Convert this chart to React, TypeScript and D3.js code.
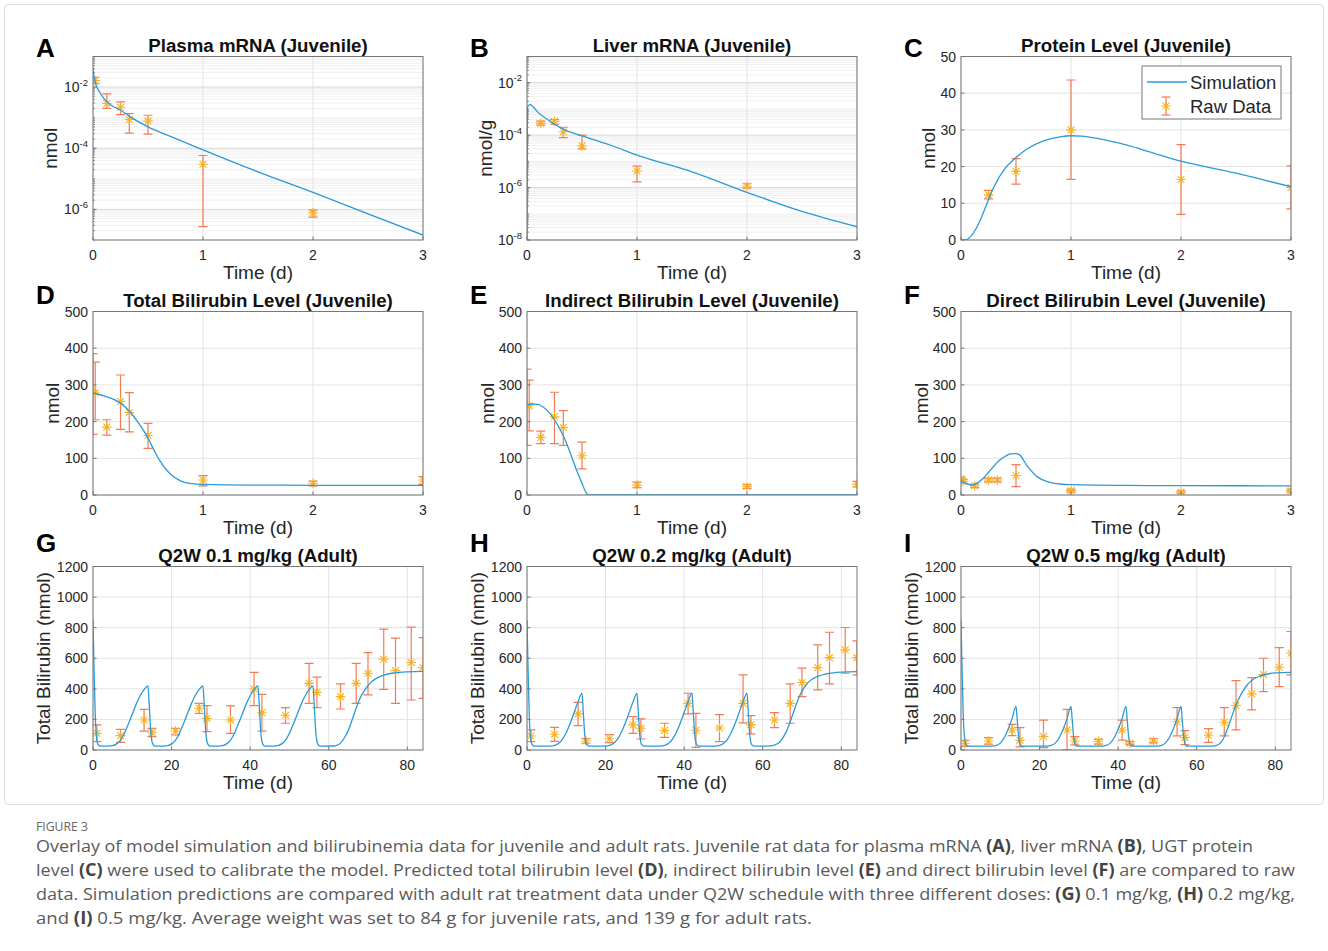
import React from "react";
import * as d3 from "d3";

// ---------------- DATA ----------------
// [time, value, low, high]
const plasmaData = [
  [0.02, 1.65e-2, 1.3e-2, 2.1e-2],
  [0.125, 2.9e-3, 2.0e-3, 6.0e-3],
  [0.25, 2.2e-3, 1.26e-3, 3.3e-3],
  [0.33, 8.7e-4, 3.1e-4, 1.37e-3],
  [0.5, 7.7e-4, 2.9e-4, 1.2e-3],
  [1, 3.0e-5, 2.75e-7, 5.8e-5],
  [2, 7.7e-7, 5.6e-7, 9.5e-7],
];
const plasmaSim = [
  [0, 3.9e-2], [0.01, 2.1e-2], [0.03, 1.1e-2], [0.06, 6.9e-3], [0.1, 4.2e-3], [0.15, 2.8e-3],
  [0.25, 1.75e-3], [0.35, 1.0e-3], [0.5, 5.0e-4], [0.75, 2.1e-4], [1, 8.9e-5], [1.5, 1.7e-5],
  [2, 3.6e-6], [2.5, 7.2e-7], [3, 1.45e-7],
];
const liverData = [
  [0.125, 2.8e-4, 2.4e-4, 3.4e-4],
  [0.25, 3.4e-4, 2.6e-4, 3.9e-4],
  [0.33, 1.35e-4, 8.1e-5, 2.0e-4],
  [0.5, 3.9e-5, 3.0e-5, 1.0e-4],
  [1, 4.3e-6, 1.66e-6, 6.6e-6],
  [2, 1.15e-6, 0.97e-6, 1.4e-6],
];
const liverSim = [
  [0, 1e-8], [0.004, 1.1e-3], [0.015, 1.35e-3], [0.03, 1.47e-3], [0.06, 1.15e-3], [0.1, 7.4e-4],
  [0.18, 4.1e-4], [0.25, 2.6e-4], [0.35, 1.55e-4], [0.5, 9.3e-5], [0.75, 4.3e-5], [1, 1.74e-5],
  [1.5, 4.0e-6], [2, 6.6e-7], [2.5, 1.23e-7], [3, 3.2e-8],
];
const proteinData = [
  [0.25, 12.3, 11.2, 13.5],
  [0.5, 18.7, 15.2, 22.2],
  [1, 30, 16.5, 43.6],
  [2, 16.5, 7, 26],
  [3, 14.3, 8.5, 20.2],
];
const proteinSim = [
  [0, 0], [0.05, 0.1], [0.1, 1.4], [0.15, 3.8], [0.2, 7.2], [0.25, 11], [0.3, 14.5], [0.4, 19.5],
  [0.5, 22.5], [0.6, 24.8], [0.75, 27], [0.9, 28.1], [1, 28.4], [1.1, 28.3], [1.25, 27.6],
  [1.5, 25.9], [1.75, 23.7], [2, 21.5], [2.25, 19.8], [2.5, 18.2], [2.75, 16.4], [3, 14.5],
];
const totalData = [
  [0, 285, 165, 385],
  [0.02, 278, 205, 362],
  [0.125, 185, 163, 205],
  [0.25, 255, 179, 327],
  [0.33, 225, 172, 279],
  [0.5, 162, 127, 195],
  [1, 41, 25, 53],
  [2, 32, 25, 38],
  [3, 41, 29, 50],
];
const totalSim = [
  [0, 278], [0.1, 270], [0.2, 259], [0.3, 238], [0.35, 222], [0.4, 202], [0.45, 180], [0.5, 155],
  [0.55, 125], [0.6, 97], [0.7, 58], [0.8, 38], [0.9, 31], [1, 29], [1.5, 27], [2, 26.5], [3, 26],
];
const indirectData = [
  [0, 243, 135, 343],
  [0.02, 243, 175, 313],
  [0.125, 157, 140, 174],
  [0.25, 213, 140, 280],
  [0.33, 184, 135, 230],
  [0.5, 107, 71, 144],
  [1, 27, 20, 35],
  [2, 23, 18, 28],
  [3, 29, 22, 37],
];
const indirectSim = [
  [0, 245], [0.05, 248], [0.1, 247], [0.15, 239], [0.2, 225], [0.25, 205], [0.3, 179], [0.35, 148],
  [0.4, 109], [0.45, 68], [0.5, 32], [0.54, 5], [0.56, 0], [1, 0], [2, 0], [3, 0],
];
const directData = [
  [0, 44, 38, 48],
  [0.02, 36, 32, 42],
  [0.125, 25, 20, 30],
  [0.25, 41, 36, 46],
  [0.33, 41, 36, 46],
  [0.5, 53, 23, 83],
  [1, 12, 8, 16],
  [2, 8, 5, 11],
  [3, 12, 8, 16],
];
const directSim = [
  [0, 38], [0.05, 31], [0.1, 27], [0.15, 33], [0.2, 45], [0.25, 62], [0.3, 79], [0.35, 95],
  [0.4, 105], [0.45, 112], [0.5, 113], [0.53, 110], [0.6, 80], [0.7, 48], [0.8, 35], [0.9, 30],
  [1, 28], [1.5, 26], [2, 25.5], [3, 25],
];
const dose01Data = [
  [1, 109, 55, 164], [7, 94, 50, 135], [13, 196, 124, 266], [15, 113, 87, 142], [21, 124, 98, 142],
  [27, 273, 240, 305], [29, 207, 120, 290], [35, 196, 109, 288], [41, 399, 290, 508], [43, 244, 124, 364],
  [49, 227, 175, 277], [55, 436, 305, 567], [57, 377, 277, 476], [63, 349, 268, 432], [67, 436, 305, 567],
  [70, 502, 360, 637], [74, 594, 397, 790], [77, 519, 305, 731], [81, 572, 327, 803], [84, 539, 338, 735],
];
const dose01Sim = [
  [0, 850], [0.3, 500], [0.7, 150], [1.2, 40], [1.8, 25],
  [4, 25], [5, 28], [6, 40], [7, 65], [8, 110], [9, 170], [10, 235], [11, 300], [12, 355], [13, 395], [14, 420],
  [14.3, 300], [14.7, 120], [15.2, 40], [15.8, 25],
  [18, 25], [19, 28], [20, 40], [21, 65], [22, 110], [23, 170], [24, 235], [25, 300], [26, 355], [27, 395], [28, 420],
  [28.3, 300], [28.7, 120], [29.2, 40], [29.8, 25],
  [32, 25], [33, 28], [34, 40], [35, 65], [36, 110], [37, 170], [38, 235], [39, 300], [40, 355], [41, 395], [42, 420],
  [42.3, 300], [42.7, 120], [43.2, 40], [43.8, 25],
  [46, 25], [47, 28], [48, 40], [49, 65], [50, 110], [51, 170], [52, 235], [53, 300], [54, 355], [55, 395], [56, 420],
  [56.3, 300], [56.7, 120], [57.2, 40], [57.8, 25],
  [61, 26], [62, 30], [63, 45], [64, 80], [65, 130], [66, 200], [67, 275], [68, 340], [69, 385], [70, 420],
  [71, 448], [72, 467], [74, 490], [76, 502], [78, 508], [80, 511], [84, 514],
];
const dose02Data = [
  [1, 92, 55, 131], [7, 103, 57, 148], [13, 236, 159, 312], [15, 59, 44, 74], [21, 74, 48, 100],
  [27, 164, 109, 218], [29, 142, 72, 203], [35, 127, 83, 175], [41, 305, 236, 371], [43, 129, 17, 240],
  [49, 144, 55, 231], [55, 305, 177, 491], [57, 166, 105, 225], [63, 196, 146, 244], [67, 305, 175, 432],
  [70, 441, 349, 535], [74, 539, 393, 687], [77, 604, 432, 770], [81, 655, 502, 801], [84, 604, 491, 714],
];
const dose02Sim = [
  [0, 850], [0.3, 500], [0.7, 150], [1.2, 40], [1.8, 25],
  [6, 25], [7, 30], [8, 42], [9, 70], [10, 115], [11, 175], [12, 245], [13, 315], [14, 370],
  [14.3, 260], [14.7, 100], [15.2, 35], [15.8, 25],
  [20, 25], [21, 30], [22, 42], [23, 70], [24, 115], [25, 175], [26, 245], [27, 315], [28, 370],
  [28.3, 260], [28.7, 100], [29.2, 35], [29.8, 25],
  [34, 25], [35, 30], [36, 42], [37, 70], [38, 115], [39, 175], [40, 245], [41, 315], [42, 370],
  [42.3, 260], [42.7, 100], [43.2, 35], [43.8, 25],
  [48, 25], [49, 30], [50, 42], [51, 70], [52, 115], [53, 175], [54, 245], [55, 315], [56, 370],
  [56.3, 260], [56.7, 100], [57.2, 35], [57.8, 25],
  [62, 27], [63, 32], [64, 45], [65, 75], [66, 120], [67, 185], [68, 260], [69, 330], [70, 385],
  [71, 425], [72, 452], [74, 482], [76, 497], [78, 505], [80, 509], [84, 512],
];
const dose05Data = [
  [1, 44, 24, 63], [7, 59, 39, 81], [13, 131, 94, 168], [15, 63, 20, 146], [21, 89, 15, 196],
  [27, 131, 2, 266], [29, 59, 33, 87], [35, 57, 39, 70], [41, 131, 65, 196], [43, 44, 35, 55],
  [49, 59, 46, 74], [55, 185, 92, 277], [57, 81, 35, 127], [63, 96, 50, 140], [67, 181, 92, 277],
  [70, 292, 131, 454], [74, 367, 262, 473], [77, 493, 382, 600], [81, 541, 415, 670], [84, 633, 491, 775],
];
const dose05Sim = [
  [0, 850], [0.3, 500], [0.7, 150], [1.2, 40], [1.8, 25],
  [8, 25], [9, 30], [10, 45], [11, 80], [12, 135], [13, 205], [14, 285],
  [14.3, 200], [14.7, 80], [15.2, 30], [15.8, 25],
  [22, 25], [23, 30], [24, 45], [25, 80], [26, 135], [27, 205], [28, 285],
  [28.3, 200], [28.7, 80], [29.2, 30], [29.8, 25],
  [36, 25], [37, 30], [38, 45], [39, 80], [40, 135], [41, 205], [42, 285],
  [42.3, 200], [42.7, 80], [43.2, 30], [43.8, 25],
  [50, 25], [51, 30], [52, 45], [53, 80], [54, 135], [55, 205], [56, 285],
  [56.3, 200], [56.7, 80], [57.2, 30], [57.8, 25],
  [64, 25], [65, 30], [66, 45], [67, 85], [68, 150], [69, 225], [70, 295], [71, 350], [72, 395],
  [73, 430], [74, 455], [76, 483], [78, 497], [80, 504], [84, 508],
];

const juvXTicks = [0, 1, 2, 3];
const adultXTicks = [0, 20, 40, 60, 80];
const plasmaYTicks = [1e-6, 1e-4, 1e-2];
const liverYTicks = [1e-8, 1e-6, 1e-4, 1e-2];
const proteinYTicks = [0, 10, 20, 30, 40, 50];
const bilirubinYTicks = [0, 100, 200, 300, 400, 500];
const adultYTicks = [0, 200, 400, 600, 800, 1000, 1200];

const legendLabels = ["Simulation", "Raw Data"];

const captionLines = [
  [["Overlay of model simulation and bilirubinemia data for juvenile and adult rats. Juvenile rat data for plasma mRNA ", 0], ["(A)", 1], [", liver mRNA ", 0], ["(B)", 1], [", UGT protein", 0]],
  [["level ", 0], ["(C)", 1], [" were used to calibrate the model. Predicted total bilirubin level ", 0], ["(D)", 1], [", indirect bilirubin level ", 0], ["(E)", 1], [" and direct bilirubin level ", 0], ["(F)", 1], [" are compared to raw", 0]],
  [["data. Simulation predictions are compared with adult rat treatment data under Q2W schedule with three different doses: ", 0], ["(G)", 1], [" 0.1 mg/kg, ", 0], ["(H)", 1], [" 0.2 mg/kg,", 0]],
  [["and ", 0], ["(I)", 1], [" 0.5 mg/kg. Average weight was set to 84 g for juvenile rats, and 139 g for adult rats.", 0]],
];

// ---------------- STYLE ----------------
const FONT = "'Liberation Sans', Arial, Helvetica, sans-serif";
const LINE_COLOR = "#2a9bd7";
const ERR_COLOR = "#f37b55";
const MARK_COLOR = "#f9b122";
const AXIS_COLOR = "#777";
const TEXT_COLOR = "#262626";
const GRID_COLOR = "#e3e3e3";
const MINOR_GRID = "#ececec";

const COLS = [93, 527, 961];
const ROWS = [56.5, 311.5, 566.5];
const PW = 330;
const PH = 183.5;
const LETTER_Y = [57, 304, 552];

function Asterisk({ cx, cy, r = 4.8 }: { cx: number; cy: number; r?: number }) {
  const d = [0, 45, 90, 135]
    .map((a) => {
      const rad = (a * Math.PI) / 180;
      const dx = Math.cos(rad) * r;
      const dy = Math.sin(rad) * r;
      return `M${cx - dx},${cy - dy}L${cx + dx},${cy + dy}`;
    })
    .join("");
  return <path d={d} stroke={MARK_COLOR} strokeWidth={1.1} fill="none" />;
}

function ErrBar({ x, y1, y2 }: { x: number; y1: number; y2: number }) {
  const c = 4.5;
  return (
    <g stroke={ERR_COLOR} strokeWidth={1.2} fill="none">
      <line x1={x} x2={x} y1={y1} y2={y2} />
      <line x1={x - c} x2={x + c} y1={y1} y2={y1} />
      <line x1={x - c} x2={x + c} y1={y2} y2={y2} />
    </g>
  );
}

type PanelCfg = {
  id: string;
  col: number;
  row: number;
  letter: string;
  title: string;
  ylabel: string;
  ylabelOffset: number;
  log: boolean;
  xDomain: number[];
  xTicks: number[];
  yDomain: number[];
  yTicks: number[];
  data: number[][];
  sim: number[][];
  legend?: boolean;
};

function Panel({ cfg }: { cfg: PanelCfg }) {
  const x0 = COLS[cfg.col];
  const y0 = ROWS[cfg.row];
  const x = d3.scaleLinear().domain(cfg.xDomain).range([x0, x0 + PW]);
  const y: any = cfg.log
    ? d3.scaleLog().domain(cfg.yDomain).range([y0 + PH, y0])
    : d3.scaleLinear().domain(cfg.yDomain).range([y0 + PH, y0]);
  const lo = cfg.yDomain[0];
  const lineGen = d3
    .line<number[]>()
    .x((d) => x(d[0]))
    .y((d) => y(Math.max(d[1], lo)))
    .curve(d3.curveMonotoneX);

  const minor: number[] = [];
  if (cfg.log) {
    const k0 = Math.round(Math.log10(cfg.yDomain[0]));
    const k1 = Math.round(Math.log10(cfg.yDomain[1]));
    for (let k = k0; k < k1; k++) {
      for (let m = 1; m <= 9; m++) {
        const v = m * Math.pow(10, k);
        if (v >= cfg.yDomain[0] && v <= cfg.yDomain[1]) minor.push(v);
      }
    }
  }

  const clipId = `clip-${cfg.id}`;
  const bottom = y0 + PH;

  return (
    <g>
      <defs>
        <clipPath id={clipId}>
          <rect x={x0} y={y0} width={PW} height={PH} />
        </clipPath>
      </defs>
      <rect x={x0} y={y0} width={PW} height={PH} fill="#fff" />
      {minor.map((v, i) => (
        <line key={"mg" + i} x1={x0} x2={x0 + PW} y1={y(v)} y2={y(v)} stroke={MINOR_GRID} strokeWidth={0.8} />
      ))}
      {cfg.xTicks.map((t) => (
        <line key={"gx" + t} x1={x(t)} x2={x(t)} y1={y0} y2={bottom} stroke={GRID_COLOR} strokeWidth={1} />
      ))}
      {cfg.yTicks.map((t) => (
        <line key={"gy" + t} x1={x0} x2={x0 + PW} y1={y(t)} y2={y(t)} stroke={cfg.log ? "#dcdcdc" : GRID_COLOR} strokeWidth={1} />
      ))}
      <g clipPath={`url(#${clipId})`}>
        {cfg.data.map((d, i) => (
          <ErrBar key={"e" + i} x={x(d[0])} y1={y(d[2])} y2={y(d[3])} />
        ))}
        {cfg.data.map((d, i) => (
          <Asterisk key={"m" + i} cx={x(d[0])} cy={y(d[1])} />
        ))}
        <path d={lineGen(cfg.sim) || ""} fill="none" stroke={LINE_COLOR} strokeWidth={1.3} />
      </g>
      <rect x={x0} y={y0} width={PW} height={PH} fill="none" stroke={AXIS_COLOR} strokeWidth={1} />
      {cfg.xTicks.map((t) => (
        <line key={"tx" + t} x1={x(t)} x2={x(t)} y1={bottom} y2={bottom - 3.5} stroke={AXIS_COLOR} />
      ))}
      {cfg.yTicks.map((t) => (
        <line key={"ty" + t} x1={x0} x2={x0 + 3.5} y1={y(t)} y2={y(t)} stroke={AXIS_COLOR} />
      ))}
      {minor.map((v, i) => (
        <line key={"mt" + i} x1={x0} x2={x0 + 2} y1={y(v)} y2={y(v)} stroke={AXIS_COLOR} strokeWidth={0.8} />
      ))}
      {cfg.xTicks.map((t) => (
        <text key={"lx" + t} x={x(t)} y={bottom + 19.5} textAnchor="middle" fontSize={14} fill={TEXT_COLOR} fontFamily={FONT}>
          {t}
        </text>
      ))}
      {cfg.yTicks.map((t) =>
        cfg.log ? (
          <text key={"ly" + t} x={x0 - 5} y={y(t) + 5} textAnchor="end" fontSize={14} fill={TEXT_COLOR} fontFamily={FONT}>
            <tspan>10</tspan>
            <tspan fontSize={9.5} dy={-6.5}>{String(Math.round(Math.log10(t)))}</tspan>
          </text>
        ) : (
          <text key={"ly" + t} x={x0 - 5} y={y(t) + 5} textAnchor="end" fontSize={14} fill={TEXT_COLOR} fontFamily={FONT}>
            {String(t)}
          </text>
        )
      )}
      <text x={x0 + PW / 2} y={bottom + 39} textAnchor="middle" fontSize={19} fill={TEXT_COLOR} fontFamily={FONT}>
        Time (d)
      </text>
      <text
        transform={`translate(${x0 - cfg.ylabelOffset},${y0 + PH / 2}) rotate(-90)`}
        textAnchor="middle"
        fontSize={19}
        fill={TEXT_COLOR}
        fontFamily={FONT}
      >
        {cfg.ylabel}
      </text>
      <text x={x0 + PW / 2} y={y0 - 5} textAnchor="middle" fontSize={18.7} fontWeight="bold" fill="#111" fontFamily={FONT}>
        {cfg.title}
      </text>
      <text x={x0 - 57} y={LETTER_Y[cfg.row]} fontSize={26} fontWeight="bold" fill="#000" fontFamily={FONT}>
        {cfg.letter}
      </text>
      {cfg.legend && (
        <g fontFamily={FONT}>
          <rect x={1142} y={66} width={139} height={53} fill="#fff" stroke={AXIS_COLOR} />
          <line x1={1147} x2={1187} y1={82} y2={82} stroke={LINE_COLOR} strokeWidth={1.3} />
          <text x={1190} y={88.5} fontSize={18.5} fill={TEXT_COLOR}>{legendLabels[0]}</text>
          <ErrBar x={1166} y1={97} y2={115} />
          <Asterisk cx={1166} cy={106} />
          <text x={1190} y={112.5} fontSize={18.5} fill={TEXT_COLOR}>{legendLabels[1]}</text>
        </g>
      )}
    </g>
  );
}

const panels: PanelCfg[] = [
  { id: "A", col: 0, row: 0, letter: "A", title: "Plasma mRNA (Juvenile)", ylabel: "nmol", ylabelOffset: 36.5, log: true, xDomain: [0, 3], xTicks: juvXTicks, yDomain: [1e-7, 1e-1], yTicks: plasmaYTicks, data: plasmaData, sim: plasmaSim },
  { id: "B", col: 1, row: 0, letter: "B", title: "Liver mRNA (Juvenile)", ylabel: "nmol/g", ylabelOffset: 35.5, log: true, xDomain: [0, 3], xTicks: juvXTicks, yDomain: [1e-8, 1e-1], yTicks: liverYTicks, data: liverData, sim: liverSim },
  { id: "C", col: 2, row: 0, letter: "C", title: "Protein Level (Juvenile)", ylabel: "nmol", ylabelOffset: 26.5, log: false, xDomain: [0, 3], xTicks: juvXTicks, yDomain: [0, 50], yTicks: proteinYTicks, data: proteinData, sim: proteinSim, legend: true },
  { id: "D", col: 0, row: 1, letter: "D", title: "Total Bilirubin Level (Juvenile)", ylabel: "nmol", ylabelOffset: 34.5, log: false, xDomain: [0, 3], xTicks: juvXTicks, yDomain: [0, 500], yTicks: bilirubinYTicks, data: totalData, sim: totalSim },
  { id: "E", col: 1, row: 1, letter: "E", title: "Indirect Bilirubin Level (Juvenile)", ylabel: "nmol", ylabelOffset: 33.5, log: false, xDomain: [0, 3], xTicks: juvXTicks, yDomain: [0, 500], yTicks: bilirubinYTicks, data: indirectData, sim: indirectSim },
  { id: "F", col: 2, row: 1, letter: "F", title: "Direct Bilirubin Level (Juvenile)", ylabel: "nmol", ylabelOffset: 33.5, log: false, xDomain: [0, 3], xTicks: juvXTicks, yDomain: [0, 500], yTicks: bilirubinYTicks, data: directData, sim: directSim },
  { id: "G", col: 0, row: 2, letter: "G", title: "Q2W 0.1 mg/kg (Adult)", ylabel: "Total Bilirubin (nmol)", ylabelOffset: 43.5, log: false, xDomain: [0, 84], xTicks: adultXTicks, yDomain: [0, 1200], yTicks: adultYTicks, data: dose01Data, sim: dose01Sim },
  { id: "H", col: 1, row: 2, letter: "H", title: "Q2W 0.2 mg/kg (Adult)", ylabel: "Total Bilirubin (nmol)", ylabelOffset: 43.5, log: false, xDomain: [0, 84], xTicks: adultXTicks, yDomain: [0, 1200], yTicks: adultYTicks, data: dose02Data, sim: dose02Sim },
  { id: "I", col: 2, row: 2, letter: "I", title: "Q2W 0.5 mg/kg (Adult)", ylabel: "Total Bilirubin (nmol)", ylabelOffset: 43.5, log: false, xDomain: [0, 84], xTicks: adultXTicks, yDomain: [0, 1200], yTicks: adultYTicks, data: dose05Data, sim: dose05Sim },
];

const captionWidths = [1217, 1259, 1259, 776];

export default function App() {
  return (
    <svg
      width={1328}
      height={951}
      style={{ position: "absolute", left: 0, top: 0, background: "#fff" }}
      xmlns="http://www.w3.org/2000/svg"
    >
      <rect x={0} y={0} width={1328} height={951} fill="#fff" />
      <rect x={4.5} y={4.5} width={1319} height={800} rx={4} fill="none" stroke="#d9d9d9" strokeWidth={1} />
      {panels.map((p) => (
        <Panel key={p.id} cfg={p} />
      ))}
      <text x={36} y={831} fontSize={13} fill="#666" fontFamily="'Open Sans', sans-serif" textLength={52} lengthAdjust="spacingAndGlyphs">
        FIGURE 3
      </text>
      {captionLines.map((line, i) => (
        <text
          key={i}
          x={36}
          y={852 + i * 24}
          fontSize={17}
          fill="#5a5a5a"
          fontFamily="'Open Sans', sans-serif"
          textLength={captionWidths[i]}
          lengthAdjust="spacingAndGlyphs"
        >
          {line.map((seg: any, j: number) => (
            <tspan key={j} fontWeight={seg[1] ? "bold" : "normal"} fill={seg[1] ? "#444" : "#5a5a5a"}>
              {seg[0]}
            </tspan>
          ))}
        </text>
      ))}
    </svg>
  );
}
